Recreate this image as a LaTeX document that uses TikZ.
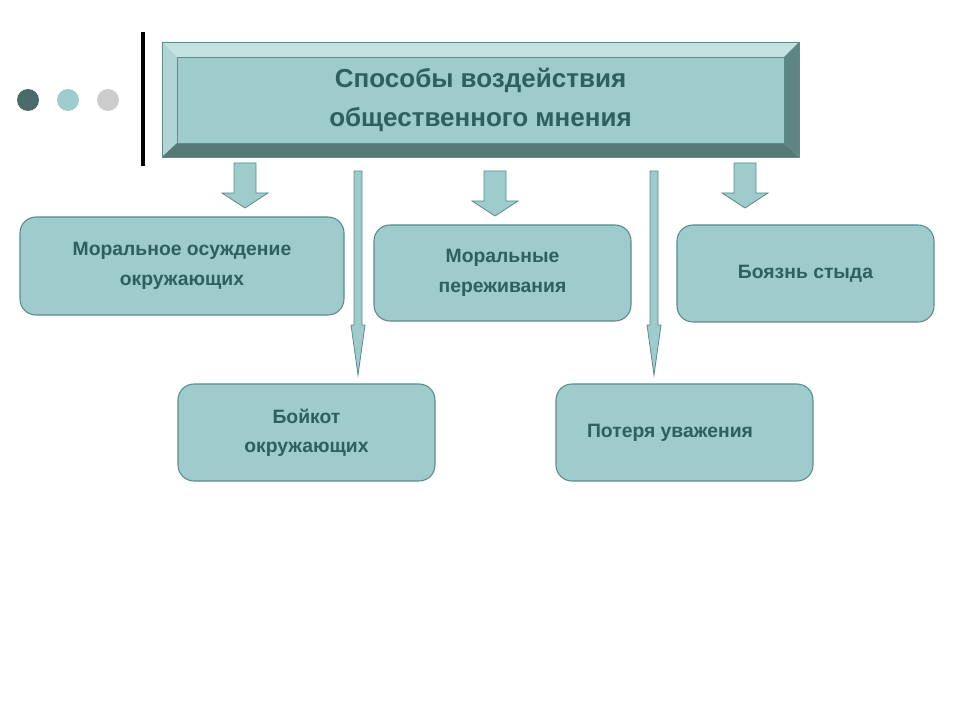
\documentclass[tikz,border=0pt]{standalone}
\usepackage{fontspec}
\setmainfont{Liberation Sans}
\begin{document}
\begin{tikzpicture}[x=0.75pt,y=-0.75pt]
\definecolor{fillc}{HTML}{9ECBCB}
\definecolor{edgec}{HTML}{5B8C8A}
\definecolor{txtc}{HTML}{2F5F5E}
\definecolor{darkb}{HTML}{5E8684}
\definecolor{lightb}{HTML}{C4E2E2}
\tikzset{
 rbox/.style={draw=edgec,fill=fillc,rounded corners=12pt,line width=0.8pt,align=center,font=\bfseries\fontsize{14.5}{22}\selectfont,text=txtc},
 blockarrow/.style={fill=fillc,draw=edgec,line width=0.6pt},
}
\useasboundingbox (0,0) rectangle (960,720);
% dots
\fill[darkb!80!black] (28,100) circle (11);
\fill[fillc] (68,100) circle (11);
\fill[black!20] (108,100) circle (11);
\draw[line width=3pt] (143,32) -- (143,166);
% bevelled title
\fill[lightb] (162,42) -- (799,42) -- (784,57) -- (177,57) -- cycle;
\fill[fillc!80!white] (162,42) -- (177,57) -- (177,143) -- (162,157) -- cycle;
\fill[darkb] (799,42) -- (799,157) -- (784,143) -- (784,57) -- cycle;
\fill[darkb!90!black] (162,157) -- (799,157) -- (784,143) -- (177,143) -- cycle;
\node[draw=edgec,fill=fillc,minimum width=607*0.75pt,minimum height=86*0.75pt,inner sep=0,align=center,font=\bfseries\fontsize{19.5}{29}\selectfont,text=txtc] (title) at (480.5,100) {Способы воздействия\\ общественного мнения};
\draw[edgec] (162,42) rectangle (799,157);
% block arrows
\foreach \x/\ya/\yb in {245/163/208,495/171/216,745/163/208}{
 \draw[blockarrow] (\x-11,\ya) -- (\x+11,\ya) -- (\x+11,\yb-15) -- (\x+23,\yb-15) -- (\x,\yb) -- (\x-23,\yb-15) -- (\x-11,\yb-15) -- cycle;}
% thin arrows
\foreach \x in {358,654}{
 \draw[blockarrow] (\x-4,171) -- (\x+4,171) -- (\x+4,325) -- (\x+7,325) -- (\x,375) -- (\x-7,325) -- (\x-4,325) -- cycle;}
% boxes
\node[rbox,minimum width=324*0.75pt,minimum height=98*0.75pt] (b1) at (182,266) {Моральное осуждение\\окружающих};
\node[rbox,minimum width=257*0.75pt,minimum height=96*0.75pt] (b2) at (502.5,273) {Моральные\\переживания};
\node[rbox,minimum width=257*0.75pt,minimum height=97*0.75pt] (b3) at (805.5,273.5) {Боязнь стыда};
\node[rbox,minimum width=257*0.75pt,minimum height=97*0.75pt] (b4) at (306.5,432.5) {Бойкот\\окружающих};
\node[rbox,minimum width=257*0.75pt,minimum height=97*0.75pt] (b5) at (684.5,432.5) {Потеря уважения\hspace*{1.5em}};
\end{tikzpicture}
\end{document}
